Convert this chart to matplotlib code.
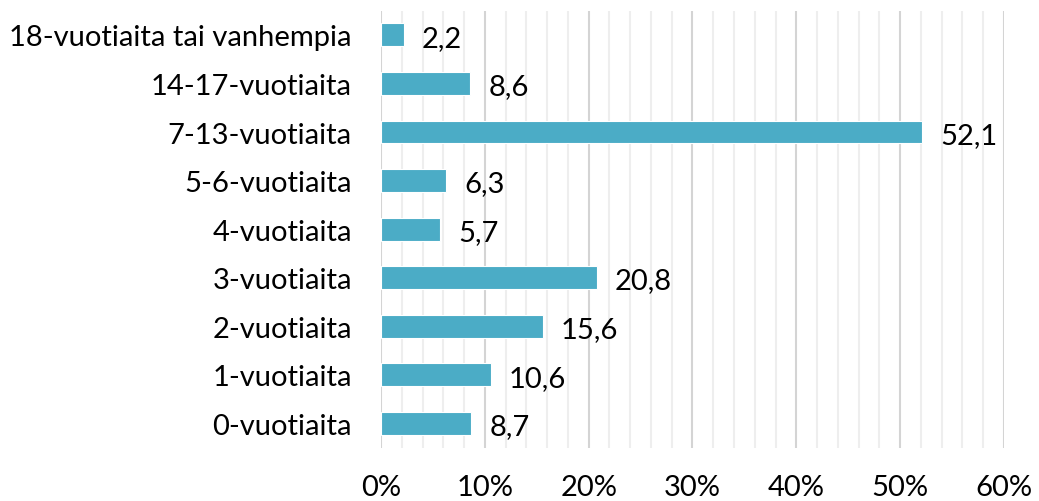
#!/usr/bin/env python3

import numpy as np
from matplotlib import pyplot as plt
from matplotlib.ticker import MultipleLocator, FuncFormatter

# data, bottom to top as drawn
categories = ['0-vuotiaita', '1-vuotiaita', '2-vuotiaita', '3-vuotiaita',
			  '4-vuotiaita', '5-6-vuotiaita', '7-13-vuotiaita',
			  '14-17-vuotiaita', '18-vuotiaita tai vanhempia']
values = [8.7, 10.6, 15.6, 20.8, 5.7, 6.3, 52.1, 8.6, 2.2]

plt.rcParams['font.family'] = ['Lato', 'DejaVu Sans']
fs = 21

fig = plt.figure(figsize=(10.39, 5.02), dpi=100)
ax = fig.add_axes([0.3667, 0.106, 0.5996, 0.871])

y = np.arange(len(categories))
bars = ax.barh(y, values, height=0.47, color='#4bacc6',
			   edgecolor='white', linewidth=0.8, zorder=3)

for yi, v in zip(y, values):
	ax.annotate(f'{v:.1f}'.replace('.', ','), (v, yi),
				xytext=(13, -2), textcoords='offset points',
				ha='left', va='center', fontsize=fs, color='black')

ax.set_xlim(0, 60)
ax.set_ylim(-0.5, len(categories) - 0.5)
ax.set_yticks(y)
ax.set_yticklabels(categories, fontsize=fs)
ax.xaxis.set_major_locator(MultipleLocator(10))
ax.xaxis.set_minor_locator(MultipleLocator(2))
ax.xaxis.set_major_formatter(FuncFormatter(lambda v, p: f'{v:.0f}%'))
ax.tick_params(axis='x', labelsize=fs, length=0, pad=19, which='both')
ax.tick_params(axis='y', length=0, pad=21)

ax.grid(axis='x', which='major', color='#d4d4d4', linewidth=1.5, zorder=0)
ax.grid(axis='x', which='minor', color='#eeeeee', linewidth=1.5, zorder=0)
for s in ax.spines.values():
	s.set_visible(False)

plt.savefig('out.png', dpi=100)
plt.close()
